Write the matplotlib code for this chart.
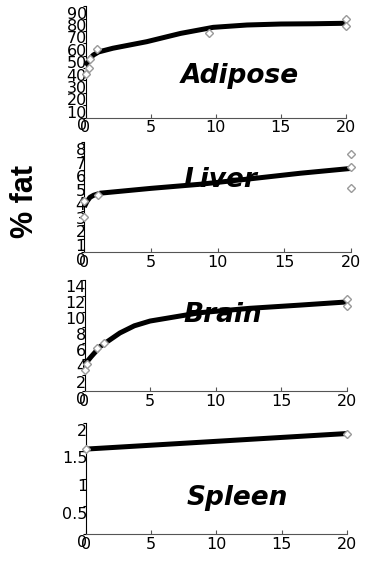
import numpy as np
import matplotlib
matplotlib.use("Agg")
import matplotlib.pyplot as plt
import matplotlib.transforms as mtransforms

# fitted curves
adipose_curve_x = [0, 0.3, 0.6, 1.0, 2.1, 4.7, 7.3, 9.8, 12.4, 15.0, 17.5, 20]
adipose_curve_y = [42, 47, 50.5, 53, 56, 61.3, 68, 72.9, 74.8, 75.6, 75.8, 76.2]
liver_curve_x = [0, 0.2, 0.43, 0.7, 1.2, 5, 8.7, 12.5, 16.2, 20]
liver_curve_y = [3.3, 3.7, 4.0, 4.15, 4.3, 4.65, 4.95, 5.35, 5.75, 6.1]
brain_curve_x = [0, 0.5, 1.2, 2.7, 3.8, 5, 8.8, 12.6, 16.4, 20]
brain_curve_y = [3.3, 4.3, 5.6, 7.3, 8.2, 8.8, 9.85, 10.4, 10.8, 11.2]
spleen_curve_x = [0, 20]
spleen_curve_y = [1.53, 1.81]

# measured points
adipose_x = [0, 0.3, 0.35, 0.9, 9.45, 20, 20]
adipose_y = [35, 40, 47, 55, 68, 79.4, 74.2]
liver_x = [0, 0, 1.0, 20, 20, 20]
liver_y = [3.75, 2.6, 4.2, 7.15, 6.2, 4.7]
brain_x = [0, 0.2, 0.95, 1.45, 20, 20]
brain_y = [2.7, 3.4, 5.4, 6.0, 11.6, 10.7]
spleen_x = [0, 20]
spleen_y = [1.53, 1.81]

x_ticks = [0, 5, 10, 15, 20]
adipose_ticks = list(range(0, 91, 10))
liver_ticks = list(range(0, 9))
brain_ticks = list(range(0, 15, 2))
spleen_ticks = [0, 0.5, 1, 1.5, 2]
spleen_ticklabels = ["0", "0.5", "1", "1.5", "2"]

W, H = 370, 563
fig = plt.figure(figsize=(3.70, 5.63), dpi=100)

def px_axes(x0, x20, ybot, ytop):
    return fig.add_axes([x0 / W, 1 - ybot / H, (x20 - x0) / W, (ybot - ytop) / H])

panels = [
    (px_axes(85.5, 346, 117.5, 6.2), adipose_curve_x, adipose_curve_y, adipose_x, adipose_y,
     90, adipose_ticks, [str(t) for t in adipose_ticks]),
    (px_axes(84.3, 351, 252.3, 142.3), liver_curve_x, liver_curve_y, liver_x, liver_y,
     8, liver_ticks, [str(t) for t in liver_ticks]),
    (px_axes(84.5, 346.7, 391, 279.7), brain_curve_x, brain_curve_y, brain_x, brain_y,
     14, brain_ticks, [str(t) for t in brain_ticks]),
    (px_axes(86, 346.7, 534, 423), spleen_curve_x, spleen_curve_y, spleen_x, spleen_y,
     2, spleen_ticks, spleen_ticklabels),
]

shift = mtransforms.ScaledTranslation(0, -4.7 / 72, fig.dpi_scale_trans)

for ax, cx, cy, mx, my, ymax, yt, ytl in panels:
    ax.plot(cx, cy, color="black", lw=3.6, solid_capstyle="butt", zorder=2, clip_on=False)
    ax.plot(mx, my, linestyle="none", marker="D", ms=4, mfc="white", mec="#9a9a9a",
            mew=1.0, zorder=3, clip_on=False)
    ax.set_xlim(0, 20)
    ax.set_ylim(0, ymax)
    ax.set_xticks(x_ticks)
    ax.set_yticks(yt)
    ax.set_yticklabels(ytl)
    for s in ["top", "right"]:
        ax.spines[s].set_visible(False)
    ax.spines["left"].set_color("black")
    ax.spines["bottom"].set_color("#555555")
    ax.tick_params(axis="x", direction="in", length=3, pad=2, labelsize=11.5, color="#555555")
    ax.tick_params(axis="y", direction="out", length=2, pad=-3, labelsize=11.5)
    for lab in ax.get_yticklabels():
        lab.set_transform(lab.get_transform() + shift)
    ax.patch.set_alpha(0)

name_style = dict(fontsize=19, fontweight="bold", fontstyle="oblique",
                  family="DejaVu Sans", ha="center", va="baseline")
fig.text(240 / W, 1 - 83 / H, "Adipose", **name_style)
fig.text(220 / W, 1 - 187 / H, "Liver", **name_style)
fig.text(223 / W, 1 - 322 / H, "Brain", **name_style)
fig.text(237 / W, 1 - 505 / H, "Spleen", **name_style)

fig.text(25 / W, 1 - 201 / H, "% fat", rotation=90, ha="center", va="center",
         fontsize=22, fontweight="bold", family="Liberation Sans")

fig.savefig("out.png", dpi=100)
